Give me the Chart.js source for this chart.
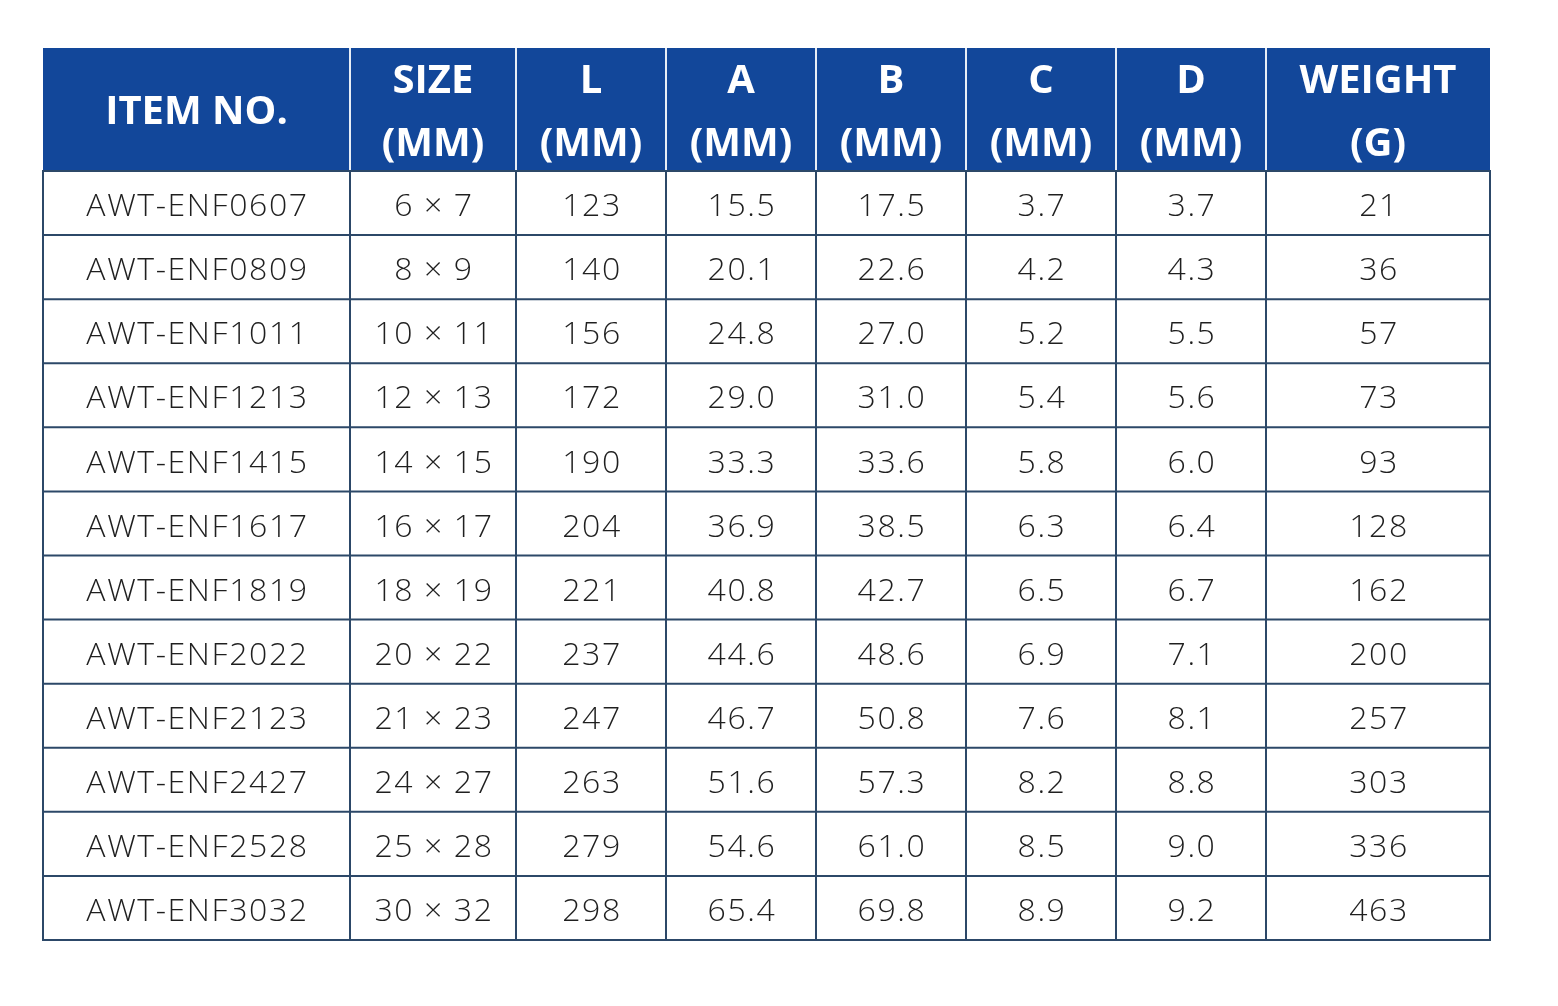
<!DOCTYPE html>
<html>
<head>
<meta charset="utf-8">
<script src="https://cdn.jsdelivr.net/npm/chart.js@4.4.1/dist/chart.umd.min.js"></script>
<style>
  html, body { margin: 0; padding: 0; background: #ffffff; }
  #wrap { width: 1558px; height: 1006px; }
</style>
</head>
<body>
<div id="wrap"><canvas id="specTable" width="1558" height="1006"></canvas></div>
<script>
// ---------------------------------------------------------------
// TABLE DATA
// ---------------------------------------------------------------
var headerLines = [
    ['ITEM NO.'],
    ['SIZE', '(MM)'],
    ['L', '(MM)'],
    ['A', '(MM)'],
    ['B', '(MM)'],
    ['C', '(MM)'],
    ['D', '(MM)'],
    ['WEIGHT', '(G)']
];
var itemNos = ['AWT-ENF0607', 'AWT-ENF0809', 'AWT-ENF1011', 'AWT-ENF1213', 'AWT-ENF1415', 'AWT-ENF1617',
               'AWT-ENF1819', 'AWT-ENF2022', 'AWT-ENF2123', 'AWT-ENF2427', 'AWT-ENF2528', 'AWT-ENF3032'];
var sizes = ['6 × 7', '8 × 9', '10 × 11', '12 × 13', '14 × 15', '16 × 17',
             '18 × 19', '20 × 22', '21 × 23', '24 × 27', '25 × 28', '30 × 32'];
var lengthL = [123, 140, 156, 172, 190, 204, 221, 237, 247, 263, 279, 298];
var dimA = [15.5, 20.1, 24.8, 29.0, 33.3, 36.9, 40.8, 44.6, 46.7, 51.6, 54.6, 65.4];
var dimB = [17.5, 22.6, 27.0, 31.0, 33.6, 38.5, 42.7, 48.6, 50.8, 57.3, 61.0, 69.8];
var dimC = [3.7, 4.2, 5.2, 5.4, 5.8, 6.3, 6.5, 6.9, 7.6, 8.2, 8.5, 8.9];
var dimD = [3.7, 4.3, 5.5, 5.6, 6.0, 6.4, 6.7, 7.1, 8.1, 8.8, 9.0, 9.2];
var weights = [21, 36, 57, 73, 93, 128, 162, 200, 257, 303, 336, 463];

// layout (x units = column widths, y units = body rows)
var colWidths = [307, 166, 150, 150, 150, 150, 150, 224];
var headerRows = 1.92;

function fmt1(v) { return v.toFixed(1); }

var columns = [
    itemNos,
    sizes,
    lengthL.map(String),
    dimA.map(fmt1),
    dimB.map(fmt1),
    dimC.map(fmt1),
    dimD.map(fmt1),
    weights.map(String)
];

var colEdges = [0];
colWidths.forEach(function (w) { colEdges.push(colEdges[colEdges.length - 1] + w); });
var totalWidth = colEdges[colEdges.length - 1];
var totalRows = headerRows + itemNos.length;

// ---------------------------------------------------------------
// PLUGIN: draws header, grid and cell texts through the scales
// ---------------------------------------------------------------
var tablePlugin = {
    id: 'specTable',
    afterDraw: function (chart) {
        var ctx = chart.ctx;
        var xs = chart.scales.x;
        var ys = chart.scales.y;
        var X = function (v) { return xs.getPixelForValue(v); };
        var Y = function (v) { return ys.getPixelForValue(v); };

        ctx.save();

        // header background
        ctx.fillStyle = '#12479a';
        ctx.fillRect(X(0), Y(0), X(totalWidth) - X(0), Y(headerRows) - Y(0));

        // header separators
        ctx.strokeStyle = '#e8eef6';
        ctx.lineWidth = 2;
        for (var i = 1; i < colEdges.length - 1; i++) {
            ctx.beginPath();
            ctx.moveTo(X(colEdges[i]), Y(0));
            ctx.lineTo(X(colEdges[i]), Y(headerRows));
            ctx.stroke();
        }

        // body grid
        ctx.strokeStyle = '#2c4868';
        ctx.lineWidth = 2;
        for (var r = 0; r <= itemNos.length; r++) {
            ctx.beginPath();
            ctx.moveTo(X(0) - 1, Y(headerRows + r));
            ctx.lineTo(X(totalWidth) + 1, Y(headerRows + r));
            ctx.stroke();
        }
        for (var c = 0; c < colEdges.length; c++) {
            ctx.beginPath();
            ctx.moveTo(X(colEdges[c]), Y(headerRows));
            ctx.lineTo(X(colEdges[c]), Y(totalRows));
            ctx.stroke();
        }

        // header text
        ctx.fillStyle = '#ffffff';
        ctx.textAlign = 'center';
        ctx.textBaseline = 'middle';
        ctx.font = '700 40px "Open Sans", "Noto Sans", sans-serif';
        headerLines.forEach(function (lines, ci) {
            var cx = X((colEdges[ci] + colEdges[ci + 1]) / 2);
            if (lines.length === 1) {
                ctx.fillText(lines[0], cx, Y(headerRows / 2) + 3);
            } else {
                ctx.fillText(lines[0], cx, Y(headerRows * 0.25) + 3);
                ctx.fillText(lines[1], cx, Y(headerRows * 0.75) + 4);
            }
        });

        // body text
        ctx.fillStyle = '#1f1f1f';
        ctx.font = '300 32px "Open Sans", "Noto Sans", sans-serif';
        if ('letterSpacing' in ctx) ctx.letterSpacing = '1.6px';
        columns.forEach(function (col, ci) {
            var cx = X((colEdges[ci] + colEdges[ci + 1]) / 2);
            col.forEach(function (txt, ri) {
                ctx.fillText(txt, cx + 1, Y(headerRows + ri + 0.5) + 4);
            });
        });

        ctx.restore();
    }
};

new Chart(document.getElementById('specTable').getContext('2d'), {
    type: 'scatter',
    data: { datasets: [{ data: [], pointRadius: 0 }] },
    options: {
        responsive: false,
        animation: false,
        layout: { padding: { left: 43, top: 48, right: 68, bottom: 66 } },
        plugins: { legend: { display: false }, tooltip: { enabled: false } },
        scales: {
            x: { type: 'linear', min: 0, max: totalWidth, display: false },
            y: { type: 'linear', min: 0, max: totalRows, reverse: true, display: false }
        }
    },
    plugins: [tablePlugin]
});
</script>
</body>
</html>
